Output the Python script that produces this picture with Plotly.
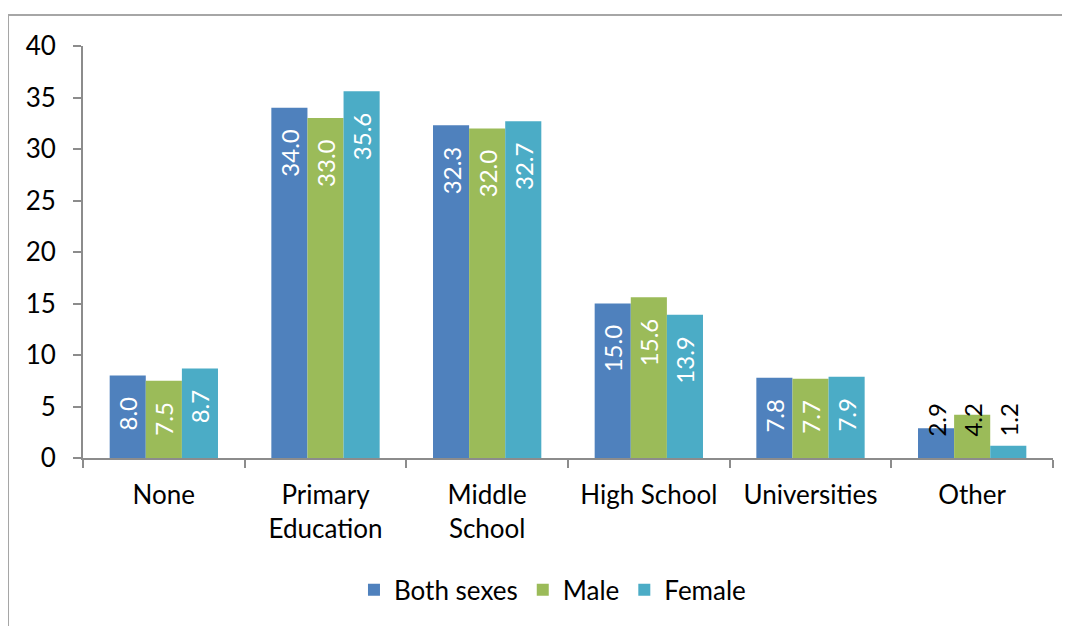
import plotly.graph_objects as go

categories = ["None", "Primary<br>Education", "Middle<br>School", "High School", "Universities", "Other"]
series_names = ["Both sexes", "Male", "Female"]
both_sexes = [8.0, 34.0, 32.3, 15.0, 7.8, 2.9]
male = [7.5, 33.0, 32.0, 15.6, 7.7, 4.2]
female = [8.7, 35.6, 32.7, 13.9, 7.9, 1.2]
y_ticks = [0, 5, 10, 15, 20, 25, 30, 35, 40]

colors = ["#4F81BD", "#9BBB59", "#4BACC6"]
FONT = "Lato"
PAD = "\u00a0\u00a0\u00a0"
N_MAIN = 5  # last category ("Other") has labels drawn above the short bars

fig = go.Figure()
for name, vals, col in zip(series_names, [both_sexes, male, female], colors):
    fig.add_trace(go.Bar(
        x=categories[:N_MAIN], y=vals[:N_MAIN], name=name, offsetgroup=name, legendgroup=name,
        marker=dict(color=col, line=dict(width=0)),
        texttemplate="%{y:.1f}" + PAD,
        textposition="inside", insidetextanchor="end", textangle=-90,
        textfont=dict(color="white", size=24, family=FONT),
        constraintext="none", cliponaxis=False,
    ))
    fig.add_trace(go.Bar(
        x=categories[N_MAIN:], y=vals[N_MAIN:], name=name, offsetgroup=name, legendgroup=name,
        showlegend=False,
        marker=dict(color=col, line=dict(width=0)),
        texttemplate=PAD + "%{y:.1f}",
        textposition="inside", insidetextanchor="start", textangle=-90,
        textfont=dict(color="black", size=24, family=FONT),
        constraintext="none", cliponaxis=False,
    ))

fig.update_layout(
    width=1062, height=618,
    margin=dict(l=75, r=17, t=38, b=168),
    paper_bgcolor="white", plot_bgcolor="white",
    barmode="group", bargap=0.33, bargroupgap=0,
    font=dict(family=FONT, size=26, color="black"),
    showlegend=True,
    legend=dict(orientation="h", x=0.484, xanchor="center", y=-0.32, yanchor="middle",
                font=dict(size=26, family=FONT), traceorder="normal"),
    xaxis=dict(categoryorder="array", categoryarray=categories,
               showline=True, linecolor="#8c8c8c", linewidth=2, ticks="outside",
               tickson="boundaries", ticklen=8, tickcolor="#8c8c8c", tickwidth=2,
               showgrid=False, tickfont=dict(size=26, family=FONT), ticklabelstandoff=13),
    yaxis=dict(range=[0, 40], tickvals=y_ticks, showline=True, linecolor="#8c8c8c", linewidth=2,
               ticks="outside", ticklen=8, tickcolor="#8c8c8c", tickwidth=2, showgrid=False,
               zeroline=False, tickfont=dict(size=26, family=FONT), ticklabelstandoff=12),
    shapes=[
        dict(type="line", xref="paper", yref="paper", x0=-0.0773, x1=1.03, y0=1.0752, y1=1.0752,
             line=dict(color="#a6a6a6", width=2)),
        dict(type="line", xref="paper", yref="paper", x0=-0.0773, x1=-0.0773, y0=1.0752, y1=-0.45,
             line=dict(color="#a6a6a6", width=2)),
    ],
)

fig.write_html("out.html")
